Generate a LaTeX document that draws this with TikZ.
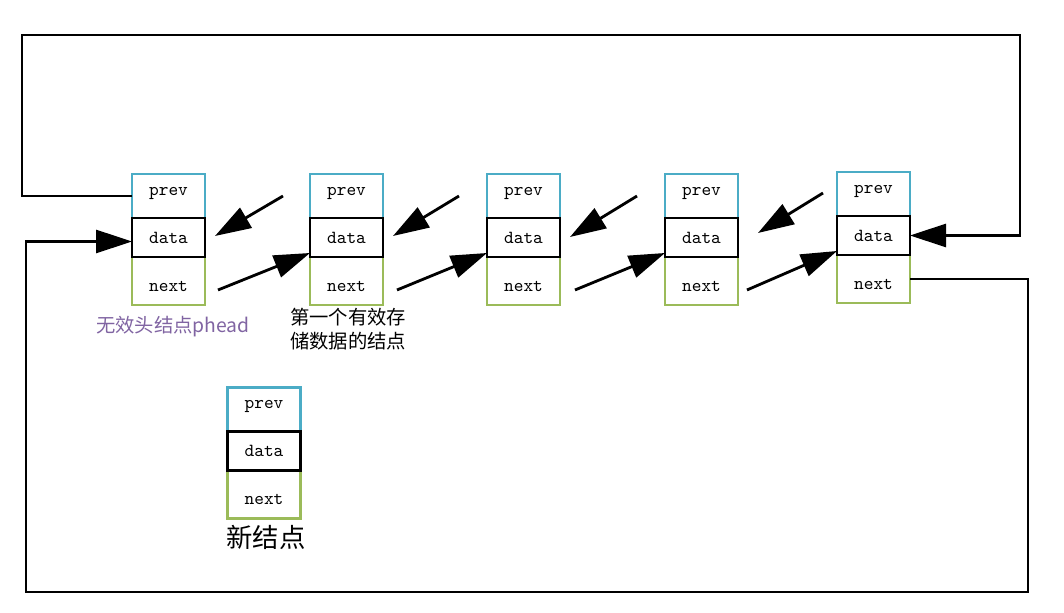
\documentclass[tikz,border=0pt]{standalone}
\usepackage{fontspec}
\newfontfamily\cjk{Noto Sans CJK SC}
\usetikzlibrary{arrows.meta,positioning}

\definecolor{prevblue}{RGB}{75,172,198}
\definecolor{nextgreen}{RGB}{155,187,89}
\definecolor{labelpurple}{RGB}{128,100,162}

\begin{document}
\begin{tikzpicture}[
  x=0.02cm, y=-0.02cm,
  font=\ttfamily\fontsize{10.5}{12}\selectfont,
  field/.style={draw, rectangle, minimum width=1.46cm, outer sep=0pt, inner sep=0pt, fill=white},
  prevf/.style={field, draw=prevblue, line width=1.3pt, minimum height=0.88cm, text height=6.5pt, text depth=7.6pt},
  dataf/.style={field, draw=black, line width=1.5pt, minimum height=0.78cm},
  nextf/.style={field, draw=nextgreen, line width=1.3pt, minimum height=0.96cm, text height=13pt, text depth=1.5pt},
  arr/.style={-{Triangle[length=0.72cm,width=0.46cm]}, line width=1.6pt},
  cnote/.style={font=\cjk\fontsize{11}{13.6}\selectfont, align=center}
]
\useasboundingbox (0,0) rectangle (1064,612);

% head node
\node[prevf] (h-p) at (168.5,196) {prev};
\node[nextf, below=0.78cm of h-p] (h-n) {next};
\node[dataf, below=0pt of h-p] (h-d) {data};
% first data node
\node[prevf] (n1-p) at (346.5,196) {prev};
\node[nextf, below=0.78cm of n1-p] (n1-n) {next};
\node[dataf, below=0pt of n1-p] (n1-d) {data};
% second
\node[prevf] (n2-p) at (523.5,196) {prev};
\node[nextf, below=0.78cm of n2-p] (n2-n) {next};
\node[dataf, below=0pt of n2-p] (n2-d) {data};
% third
\node[prevf] (n3-p) at (701.5,196) {prev};
\node[nextf, below=0.78cm of n3-p] (n3-n) {next};
\node[dataf, below=0pt of n3-p] (n3-d) {data};
% tail
\node[prevf] (tail-p) at (873.5,194) {prev};
\node[nextf, below=0.78cm of tail-p] (tail-n) {next};
\node[dataf, below=0pt of tail-p] (tail-d) {data};
% new node
\node[prevf] (new-p) at (264,409.5) {prev};
\node[nextf, below=0.78cm of new-p] (new-n) {next};
\node[dataf, below=0pt of new-p] (new-d) {data};

\node[cnote, text=labelpurple] (headlbl) at (173,327) {无效头结点phead};
\node[cnote] (firstlbl) at (348,329) {第一个有效存\\储数据的结点};
\node[cnote, font=\cjk\fontsize{15}{18}\selectfont] (newlbl) at (266,537) {新结点};

% prev pointers
\draw[arr] ([shift={(-27,0)}]n1-p.west) -- ([shift={(10,-1.5)}]h-d.east);
\draw[arr] ([shift={(-28,0)}]n2-p.west) -- ([shift={(10,-1.5)}]n1-d.east);
\draw[arr] ([shift={(-28,0)}]n3-p.west) -- ([shift={(10,-0.5)}]n2-d.east);
\draw[arr] ([shift={(-14,-1)}]tail-p.west) -- ([shift={(20,-4.5)}]n3-d.east);
% next pointers
\draw[arr] ([shift={(13,9)}]h-n.east) -- ([shift={(0,-4)}]n1-d.south west);
\draw[arr] ([shift={(14,9)}]n1-n.east) -- ([shift={(0,-4)}]n2-d.south west);
\draw[arr] ([shift={(15,9)}]n2-n.east) -- ([shift={(0,-4)}]n3-d.south west);
\draw[arr] ([shift={(9,9)}]n3-n.east) -- ([shift={(0,-4)}]tail-d.south west);
% circular links
\draw[arr] (h-p.west) -- ++(-110,0) |- (1020,35) |- (tail-d.east);
\draw[arr] (tail-n.east) -- ++(118,0) |- (26,592) |- ([shift={(0,4)}]h-d.west);
\end{tikzpicture}
\end{document}
